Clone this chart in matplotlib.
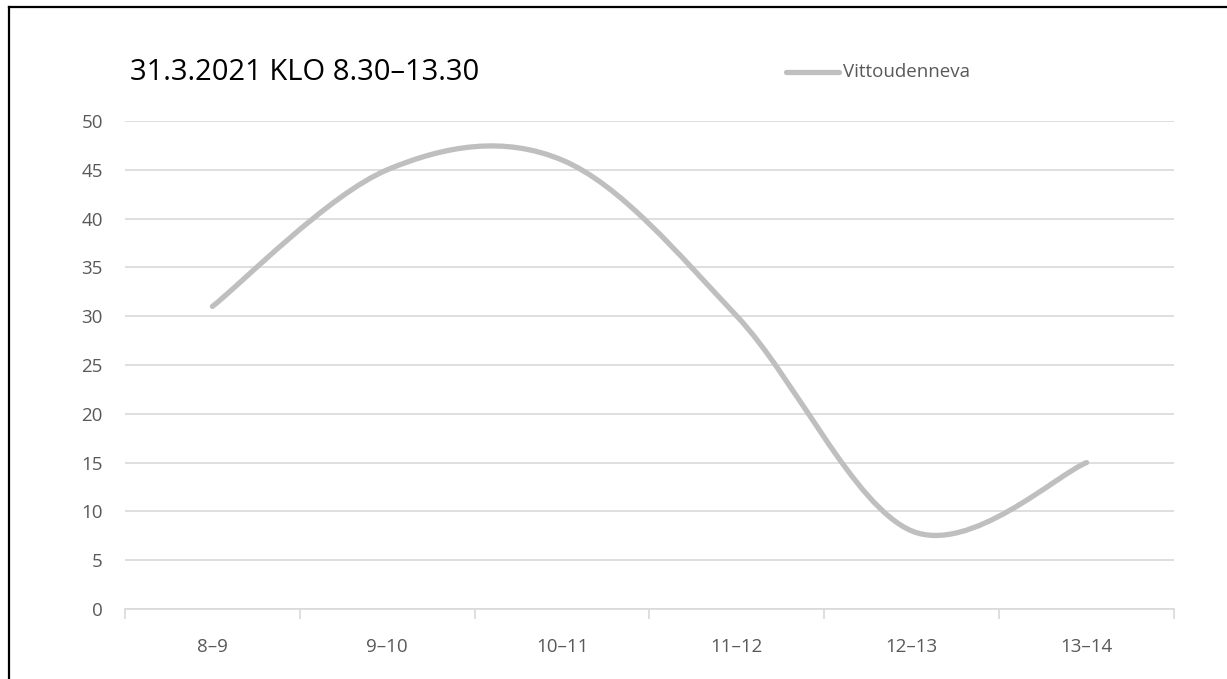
import matplotlib.pyplot as plt
from matplotlib.path import Path
from matplotlib.patches import PathPatch
from matplotlib.lines import Line2D

categories = ["8–9", "9–10", "10–11", "11–12", "12–13", "13–14"]
values = [31, 45, 46, 30, 8, 15]
series_name = "Vittoudenneva"
title = "31.3.2021 KLO 8.30–13.30"

plt.rcParams["font.family"] = ["Open Sans", "DejaVu Sans"]

fig = plt.figure(figsize=(12.27, 6.79), dpi=100)
ax = fig.add_axes([125 / 1227, 1 - 609 / 679, (1174 - 125) / 1227, (609 - 121) / 679])

# smoothed line: cubic bezier segments with control points at 1/6 of the neighbour span
xs = list(range(len(values)))
pts = list(zip(xs, values))
verts = [pts[0]]
codes = [Path.MOVETO]
for i in range(len(pts) - 1):
    p0 = pts[i - 1] if i > 0 else pts[i]
    p1 = pts[i]
    p2 = pts[i + 1]
    p3 = pts[i + 2] if i + 2 < len(pts) else pts[i + 1]
    c1 = (p1[0] + (p2[0] - p0[0]) / 6, p1[1] + (p2[1] - p0[1]) / 6)
    c2 = (p2[0] - (p3[0] - p1[0]) / 6, p2[1] - (p3[1] - p1[1]) / 6)
    verts += [c1, c2, p2]
    codes += [Path.CURVE4] * 3
ax.add_patch(PathPatch(Path(verts, codes), fill=False, edgecolor="#bfbfbf",
                       lw=3.8, capstyle="round", joinstyle="round", zorder=3))

ax.set_xlim(-0.5, len(values) - 0.5)
ax.set_ylim(0, 50)
ax.set_yticks(range(0, 51, 5))
ax.set_xticks(xs)
ax.set_xticklabels(categories)
ax.set_xticks([x - 0.5 for x in range(len(values) + 1)], minor=True)
ax.grid(axis="y", color="#d9d9d9", lw=1.2)
ax.set_axisbelow(True)
for side in ["top", "right", "left"]:
    ax.spines[side].set_visible(False)
ax.spines["bottom"].set_color("#d9d9d9")
ax.spines["bottom"].set_linewidth(1.2)
ax.tick_params(axis="both", which="major", length=0, labelsize=13.5, colors="#595959")
ax.tick_params(axis="x", which="major", pad=21)
ax.tick_params(axis="y", which="major", pad=16)
ax.tick_params(axis="x", which="minor", length=7, color="#d9d9d9", width=1.2)

fig.text(130 / 1227, 1 - 72 / 679, title, fontsize=21, color="black", va="center", ha="left")

# legend
fig.add_artist(Line2D([786 / 1227, 839 / 1227], [1 - 72 / 679] * 2, color="#bfbfbf",
                      lw=3.8, solid_capstyle="round"))
fig.text(843 / 1227, 1 - 72 / 679, series_name, fontsize=13.5, color="#595959",
         va="center", ha="left")

# frame on left and top edge
fig.add_artist(Line2D([8.5 / 1227, 8.5 / 1227], [0, 1 - 7 / 679], color="black", lw=1.6))
fig.add_artist(Line2D([8.5 / 1227, 1], [1 - 7 / 679] * 2, color="black", lw=1.6))

fig.savefig("out.png", dpi=100)
